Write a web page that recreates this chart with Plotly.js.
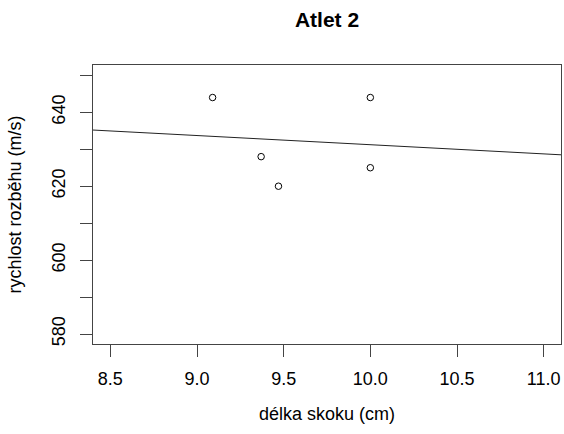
<!DOCTYPE html>
<html>
<head>
<meta charset="utf-8">
<script src="https://cdn.plot.ly/plotly-3.0.1.min.js"></script>
<style>html,body{margin:0;padding:0;background:#fff;}#chart{width:564px;height:434px;}</style>
</head>
<body>
<div id="chart"></div>
<script>
// data
const jumpLength = [9.09, 9.37, 9.47, 10.0, 10.0];      // délka skoku (cm)
const runSpeed   = [644, 628, 620, 644, 625];           // rychlost rozběhu (m/s)
// regression line (read at the plot edges)
const fitX = [8.40, 11.10];
const fitY = [635.2, 628.5];
// ticks
const xTickVals = [8.5, 9.0, 9.5, 10.0, 10.5, 11.0];
const xTickText = ["8.5", "9.0", "9.5", "10.0", "10.5", "11.0"];
const yTickVals = [580, 590, 600, 610, 620, 630, 640, 650];
const yTickText = ["580", "", "600", "", "620", "", "640", ""];

const font = "Liberation Sans, Arial, sans-serif";

const traces = [
  {
    x: fitX, y: fitY, type: "scatter", mode: "lines",
    line: {color: "#222", width: 1}, hoverinfo: "skip", showlegend: false
  },
  {
    x: jumpLength, y: runSpeed, type: "scatter", mode: "markers",
    marker: {symbol: "circle-open", size: 6.5, color: "#000", line: {width: 1, color: "#000"}},
    showlegend: false
  }
];

const layout = {
  width: 564, height: 434,
  margin: {l: 93, r: 3, t: 65, b: 90},
  paper_bgcolor: "#fff", plot_bgcolor: "#fff",
  font: {family: font, size: 18, color: "#000"},
  title: {
    text: "<b>Atlet 2</b>",
    font: {family: font, size: 21, color: "#000"},
    x: 0.5, xref: "paper", xanchor: "center",
    y: 0.954, yref: "container", yanchor: "middle"
  },
  xaxis: {
    range: [8.40, 11.10],
    tickmode: "array", tickvals: xTickVals, ticktext: xTickText,
    ticks: "outside", ticklen: 12, tickwidth: 1, tickcolor: "#444",
    showline: true, linecolor: "#444", linewidth: 1, mirror: true,
    showgrid: false, zeroline: false,
    tickfont: {family: font, size: 18, color: "#000"},
    ticklabelstandoff: 6,
    title: {text: "délka skoku (cm)", font: {family: font, size: 18, color: "#000"}, standoff: 19}
  },
  yaxis: {
    range: [577.3, 652.8],
    tickmode: "array", tickvals: yTickVals, ticktext: yTickText,
    tickangle: -90,
    ticks: "outside", ticklen: 12, tickwidth: 1, tickcolor: "#444",
    showline: true, linecolor: "#444", linewidth: 1, mirror: true,
    showgrid: false, zeroline: false,
    tickfont: {family: font, size: 18, color: "#000"},
    ticklabelstandoff: 8,
    title: {text: "rychlost rozběhu (m/s)", font: {family: font, size: 18, color: "#000"}, standoff: 22}
  }
};

Plotly.newPlot("chart", traces, layout, {staticPlot: true, displayModeBar: false});
</script>
</body>
</html>
